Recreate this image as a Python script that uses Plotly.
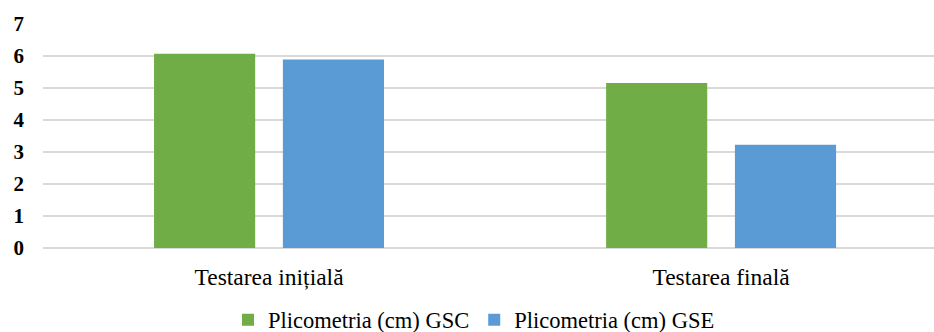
import plotly.graph_objects as go

# Skinfold measurements (cm) per test session and group
categories = ["Testarea inițială", "Testarea finală"]
gsc_values = [6.07, 5.16]
gse_values = [5.89, 3.23]
series_names = ["Plicometria (cm) GSC", "Plicometria (cm) GSE"]
y_ticks = [0, 1, 2, 3, 4, 5, 6, 7]

GREEN = "#70AD47"
BLUE = "#5B9BD5"
GRID = "#D9D9D9"
FONT = "Times New Roman"

fig = go.Figure()
fig.add_trace(go.Bar(x=categories, y=gsc_values, name=series_names[0],
                     marker=dict(color=GREEN, line=dict(width=0))))
fig.add_trace(go.Bar(x=categories, y=gse_values, name=series_names[1],
                     marker=dict(color=BLUE, line=dict(width=0))))

fig.update_layout(
    template="none",
    width=934, height=332,
    margin=dict(l=43, r=0, t=24, b=84, autoexpand=False),
    paper_bgcolor="white", plot_bgcolor="white",
    barmode="group", bargap=0.43, bargroupgap=0.215,
    font=dict(family=FONT, color="#000000", size=20),
    showlegend=True,
    legend=dict(orientation="h", x=0.5075, xanchor="center", xref="container",
                y=0.036, yanchor="middle", yref="container",
                font=dict(family=FONT, size=22.5, color="#000000"),
                itemwidth=30, traceorder="normal", bgcolor="rgba(0,0,0,0)"),
)
fig.update_xaxes(
    type="category", range=[-0.5, 1.471], showgrid=False, zeroline=False,
    showline=False, ticks="", tickfont=dict(family=FONT, size=23.5, color="#000000"),
    ticklabelstandoff=12, automargin=False,
)
fig.update_yaxes(
    range=[0, 7], tickvals=y_ticks, showgrid=True, gridcolor=GRID, gridwidth=1.5,
    zeroline=True, zerolinecolor=GRID, zerolinewidth=1.5, showline=False,
    ticks="", tickfont=dict(family=FONT, size=21, weight="bold", color="#000000"),
    ticklabelstandoff=18, automargin=False,
)

fig.write_html("out.html")
